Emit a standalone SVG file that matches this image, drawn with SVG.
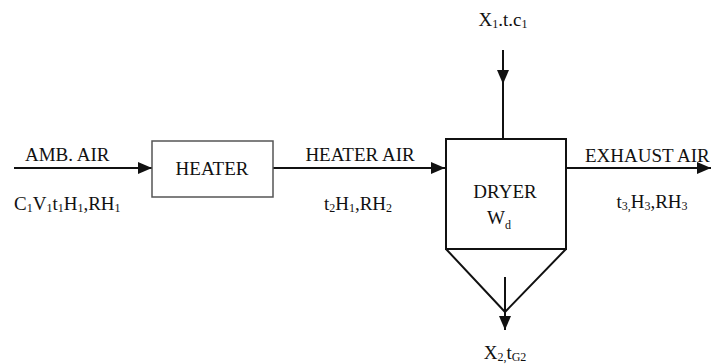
<svg xmlns="http://www.w3.org/2000/svg" width="711" height="364" viewBox="0 0 711 364">
<style>
text{font-family:"Liberation Serif","Times New Roman",serif;font-size:19px;fill:#111}
.s{font-size:12px}
.ln{stroke:#111;stroke-width:2;fill:none}
.bx{stroke:#555;stroke-width:1.5;fill:#fff}
.dx{stroke:#111;stroke-width:2;fill:#fff}
</style>
<defs>
<marker id="a" viewBox="0 0 14 12" refX="14" refY="6" markerWidth="14" markerHeight="12" orient="auto" markerUnits="userSpaceOnUse">
<path d="M0,0 L14,6 L0,12 z" fill="#111"/>
</marker>
</defs>
<g id="connectors">
<line class="ln" x1="14" y1="168" x2="152" y2="168" marker-end="url(#a)"/>
<line class="ln" x1="273" y1="168" x2="445" y2="168" marker-end="url(#a)"/>
<line class="ln" x1="566" y1="168" x2="711" y2="168" marker-end="url(#a)"/>
<line class="ln" x1="503" y1="50" x2="503" y2="84" marker-end="url(#a)"/>
<line class="ln" x1="503" y1="84" x2="503" y2="139"/>
<line class="ln" x1="505" y1="277" x2="505" y2="330" marker-end="url(#a)"/>
</g>
<g id="heater">
<rect class="bx" x="152" y="141" width="121" height="56"/>
<text x="212" y="175" text-anchor="middle">HEATER</text>
</g>
<g id="dryer">
<rect class="dx" x="446" y="139" width="120" height="110"/>
<path class="ln" d="M446,249 L505,312 L566,249"/>
<text x="505" y="198" text-anchor="middle">DRYER</text>
<text x="499" y="224" text-anchor="middle">W<tspan class="s" dy="5">d</tspan></text>
</g>
<g id="labels">
<text x="25" y="161">AMB. AIR</text>
<text x="14" y="210">C<tspan class="s" dy="2">1</tspan><tspan dy="-2">V</tspan><tspan class="s" dy="2">1</tspan><tspan dy="-2">t</tspan><tspan class="s" dy="2">1</tspan><tspan dy="-2">H</tspan><tspan class="s" dy="2">1</tspan><tspan dy="-2">,RH</tspan><tspan class="s" dy="2">1</tspan></text>
<text x="360" y="161" text-anchor="middle">HEATER AIR</text>
<text x="358" y="210" text-anchor="middle">t<tspan class="s" dy="2">2</tspan><tspan dy="-2">H</tspan><tspan class="s" dy="2">1</tspan><tspan dy="-2">,RH</tspan><tspan class="s" dy="2">2</tspan></text>
<text x="585" y="162" font-size="18">EXHAUST AIR</text>
<text x="652" y="208" text-anchor="middle">t<tspan class="s" dy="2">3,</tspan><tspan dy="-2">H</tspan><tspan class="s" dy="2">3</tspan><tspan dy="-2">,RH</tspan><tspan class="s" dy="2">3</tspan></text>
<text x="503" y="26" text-anchor="middle">X<tspan class="s" dy="2">1</tspan><tspan dy="-2">.t.c</tspan><tspan class="s" dy="2">1</tspan></text>
<text x="505" y="359" text-anchor="middle">X<tspan class="s" dy="2">2,</tspan><tspan dy="-2">t</tspan><tspan class="s" dy="2">G2</tspan></text>
</g>
</svg>
